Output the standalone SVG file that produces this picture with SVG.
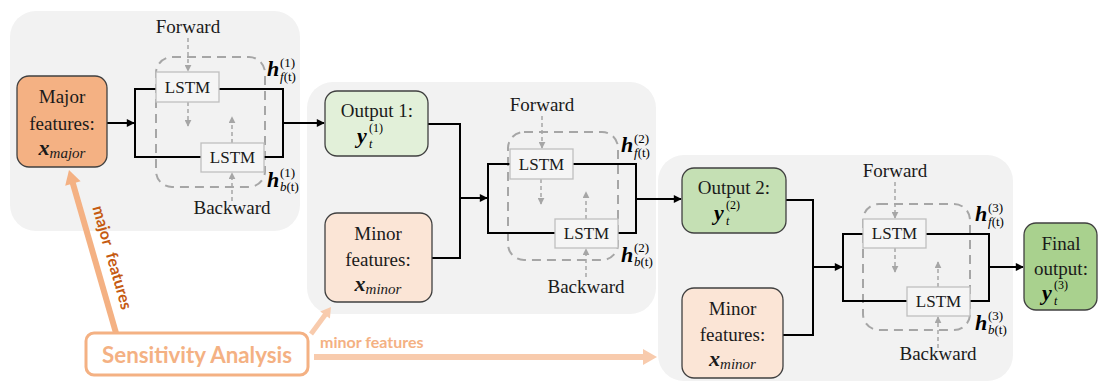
<svg xmlns="http://www.w3.org/2000/svg" width="1099" height="383" viewBox="0 0 1099 383">
<defs>
<marker id="ah" viewBox="0 0 10 10" refX="9" refY="5" markerWidth="9" markerHeight="8" markerUnits="userSpaceOnUse" orient="auto"><path d="M0,0 L10,5 L0,10 z" fill="#000"/></marker>
<marker id="ag" viewBox="0 0 10 10" refX="9" refY="5" markerWidth="7" markerHeight="7" markerUnits="userSpaceOnUse" orient="auto"><path d="M0,0 L10,5 L0,10 z" fill="#a6a6a6"/></marker>
</defs>
<style>
.panel{fill:#f2f2f2}
.box{stroke:#404040;stroke-width:1.3}
.lstm{fill:#f5f5f5;stroke:#bfbfbf;stroke-width:1.3}
.dash{fill:none;stroke:#a6a6a6;stroke-width:2;stroke-dasharray:9 6}
.conn{fill:none;stroke:#000;stroke-width:2}
.garr{fill:none;stroke:#a6a6a6;stroke-width:1.5;stroke-dasharray:4 3}
.t{font-family:"Liberation Serif","Times New Roman",serif;font-size:19px;fill:#1a1a1a;text-anchor:middle}
.lt{font-family:"Liberation Serif","Times New Roman",serif;font-size:17px;fill:#1a1a1a;text-anchor:middle}
.m{font-family:"Liberation Serif","Times New Roman",serif;font-weight:bold;font-style:italic;font-size:22px;fill:#000}
.s{font-family:"Liberation Serif","Times New Roman",serif;font-size:13px;fill:#000}
.ys{font-family:"Liberation Serif","Times New Roman",serif;font-size:12px;fill:#000}
.sa{font-family:Lato,"Liberation Sans",sans-serif;font-weight:bold}
</style>

<!-- panels -->
<g id="panel1"><rect class="panel" x="10" y="11" width="290" height="220" rx="26"/></g>
<g id="panel2"><rect class="panel" x="307" y="82" width="349" height="232" rx="26"/></g>
<g id="panel3"><rect class="panel" x="658" y="155" width="355" height="226" rx="26"/></g>

<!-- dashed bi-LSTM frames -->
<g id="bilstm1-frame"><rect class="dash" x="156" y="57" width="109" height="130" rx="16"/></g>
<g id="bilstm2-frame"><rect class="dash" x="508" y="132" width="110" height="128" rx="16"/></g>
<g id="bilstm3-frame"><rect class="dash" x="863" y="204" width="107" height="126" rx="16"/></g>

<!-- connectors -->
<g id="connectors">
  <path class="conn" d="M107,123 H134" marker-end="url(#ah)"/>
  <path class="conn" d="M156,89 H135 V157 H201"/>
  <path class="conn" d="M219,89 H283 V157 H264"/>
  <path class="conn" d="M283,123 H324" marker-end="url(#ah)"/>

  <path class="conn" d="M428,124 H460 V258 H432"/>
  <path class="conn" d="M460,198 H487" marker-end="url(#ah)"/>
  <path class="conn" d="M510,164 H488 V233 H555"/>
  <path class="conn" d="M573,164 H636 V233 H618"/>
  <path class="conn" d="M636,199 H681" marker-end="url(#ah)"/>

  <path class="conn" d="M786,200 H813 V335 H783"/>
  <path class="conn" d="M813,267 H842" marker-end="url(#ah)"/>
  <path class="conn" d="M863,234 H843 V301 H907"/>
  <path class="conn" d="M926,234 H989 V301 H970"/>
  <path class="conn" d="M989,267 H1023" marker-end="url(#ah)"/>

  <path class="garr" d="M188,38 V71" marker-end="url(#ag)"/>
  <path class="garr" d="M188,102 V126" marker-end="url(#ag)"/>
  <path class="garr" d="M232,143 V117" marker-end="url(#ag)"/>
  <path class="garr" d="M232,201 V173" marker-end="url(#ag)"/>

  <path class="garr" d="M542,116 V148" marker-end="url(#ag)"/>
  <path class="garr" d="M541,179 V204" marker-end="url(#ag)"/>
  <path class="garr" d="M586,219 V192" marker-end="url(#ag)"/>
  <path class="garr" d="M586,277 V249" marker-end="url(#ag)"/>

  <path class="garr" d="M895,182 V218" marker-end="url(#ag)"/>
  <path class="garr" d="M895,248 V272" marker-end="url(#ag)"/>
  <path class="garr" d="M938,287 V262" marker-end="url(#ag)"/>
  <path class="garr" d="M938,348 V317" marker-end="url(#ag)"/>

  <!-- sensitivity arrows -->
  <line x1="116" y1="333" x2="71.8" y2="179.6" stroke="#f4b183" stroke-width="6"/>
  <polygon points="69,170 80.6,181.2 65.2,185.7" fill="#f4b183"/>
  <line x1="311" y1="334" x2="326.5" y2="313" stroke="#f8cbad" stroke-width="5"/>
  <polygon points="331,307 329.9,318.6 320.2,311.5" fill="#f8cbad"/>
  <line x1="314" y1="357" x2="645" y2="357" stroke="#f8cbad" stroke-width="6"/>
  <polygon points="657,357 643,349 643,365" fill="#f8cbad"/>
  <text class="sa" x="107" y="259" font-size="16" fill="#c55a11" text-anchor="middle" transform="rotate(74 107 259)">major<tspan dx="8">features</tspan></text>
  <text class="sa" x="320" y="348" font-size="16" fill="#f4b183">minor features</text>
</g>

<!-- Panel 1 texts -->
<g id="fwd1"><text class="t" x="188" y="33">Forward</text></g>
<g id="bwd1"><text class="t" x="232" y="214">Backward</text></g>

<g id="major-features">
  <rect class="box" x="17" y="76" width="90" height="91" rx="12" fill="#f4b183"/>
  <text class="t" x="62" y="103">Major</text>
  <text class="t" x="62" y="130">features:</text>
  <text class="t" x="62" y="155"><tspan font-weight="bold" font-style="italic" font-size="22">x</tspan><tspan font-style="italic" font-size="15" dy="3">major</tspan></text>
</g>

<g id="lstm1f"><rect class="lstm" x="156" y="72" width="63" height="30"/><text class="lt" x="187.5" y="93">LSTM</text></g>
<g id="lstm1b"><rect class="lstm" x="201" y="143" width="63" height="29"/><text class="lt" x="232.5" y="163">LSTM</text></g>

<g id="h1f"><text class="m" x="267" y="76">h</text><text class="s" x="280" y="67">(1)</text><text class="s" x="280" y="81"><tspan font-style="italic">f</tspan>(t)</text></g>
<g id="h1b"><text class="m" x="267" y="187">h</text><text class="s" x="280" y="177">(1)</text><text class="s" x="280" y="191"><tspan font-style="italic">b</tspan>(t)</text></g>

<!-- Panel 2 -->
<g id="output1">
  <rect class="box" x="325" y="91" width="103" height="65" rx="12" fill="#e2f0d9"/>
  <text class="t" x="377" y="117">Output 1:</text>
  <text class="m" x="357" y="143">y</text><text class="ys" x="369" y="132">(1)</text><text class="ys" x="369" y="148" font-style="italic">t</text>
</g>
<g id="minor1">
  <rect class="box" x="325" y="213" width="107" height="89" rx="12" fill="#fbe5d6"/>
  <text class="t" x="378" y="240">Minor</text>
  <text class="t" x="378" y="266">features:</text>
  <text class="t" x="378" y="291"><tspan font-weight="bold" font-style="italic" font-size="22">x</tspan><tspan font-style="italic" font-size="15" dy="3">minor</tspan></text>
</g>
<g id="fwd2"><text class="t" x="542" y="111">Forward</text></g>
<g id="bwd2"><text class="t" x="586" y="293">Backward</text></g>
<g id="lstm2f"><rect class="lstm" x="510" y="149" width="63" height="30"/><text class="lt" x="541.5" y="170">LSTM</text></g>
<g id="lstm2b"><rect class="lstm" x="555" y="219" width="63" height="29"/><text class="lt" x="586.5" y="239">LSTM</text></g>
<g id="h2f"><text class="m" x="621" y="152">h</text><text class="s" x="634" y="143">(2)</text><text class="s" x="634" y="157"><tspan font-style="italic">f</tspan>(t)</text></g>
<g id="h2b"><text class="m" x="621" y="262">h</text><text class="s" x="634" y="252">(2)</text><text class="s" x="634" y="266"><tspan font-style="italic">b</tspan>(t)</text></g>

<!-- Panel 3 -->
<g id="output2">
  <rect class="box" x="682" y="168" width="104" height="65" rx="12" fill="#c5e0b4"/>
  <text class="t" x="734" y="194">Output 2:</text>
  <text class="m" x="714" y="220">y</text><text class="ys" x="726" y="209">(2)</text><text class="ys" x="726" y="225" font-style="italic">t</text>
</g>
<g id="minor2">
  <rect class="box" x="682" y="288" width="101" height="90" rx="12" fill="#fbe5d6"/>
  <text class="t" x="732.5" y="315">Minor</text>
  <text class="t" x="732.5" y="341">features:</text>
  <text class="t" x="732.5" y="366"><tspan font-weight="bold" font-style="italic" font-size="22">x</tspan><tspan font-style="italic" font-size="15" dy="3">minor</tspan></text>
</g>
<g id="fwd3"><text class="t" x="895" y="177">Forward</text></g>
<g id="bwd3"><text class="t" x="938" y="360">Backward</text></g>
<g id="lstm3f"><rect class="lstm" x="863" y="219" width="63" height="29"/><text class="lt" x="894.5" y="239">LSTM</text></g>
<g id="lstm3b"><rect class="lstm" x="907" y="287" width="63" height="29"/><text class="lt" x="938.5" y="307">LSTM</text></g>
<g id="h3f"><text class="m" x="975" y="221">h</text><text class="s" x="988" y="212">(3)</text><text class="s" x="988" y="226"><tspan font-style="italic">f</tspan>(t)</text></g>
<g id="h3b"><text class="m" x="975" y="330">h</text><text class="s" x="988" y="320">(3)</text><text class="s" x="988" y="334"><tspan font-style="italic">b</tspan>(t)</text></g>

<g id="final-output">
  <rect class="box" x="1024" y="223" width="73" height="87" rx="12" fill="#a9d18e"/>
  <text class="t" x="1061" y="250">Final</text>
  <text class="t" x="1061" y="275">output:</text>
  <text class="m" x="1042" y="300">y</text><text class="ys" x="1054" y="289">(3)</text><text class="ys" x="1054" y="305" font-style="italic">t</text>
</g>

<g id="sensitivity">
  <rect x="86" y="333" width="222" height="42" rx="8" fill="#fff" stroke="#f4b183" stroke-width="3"/>
  <text class="sa" x="197" y="363" font-size="23" fill="#f4b183" text-anchor="middle" textLength="190" lengthAdjust="spacingAndGlyphs">Sensitivity Analysis</text>
</g>
</svg>
